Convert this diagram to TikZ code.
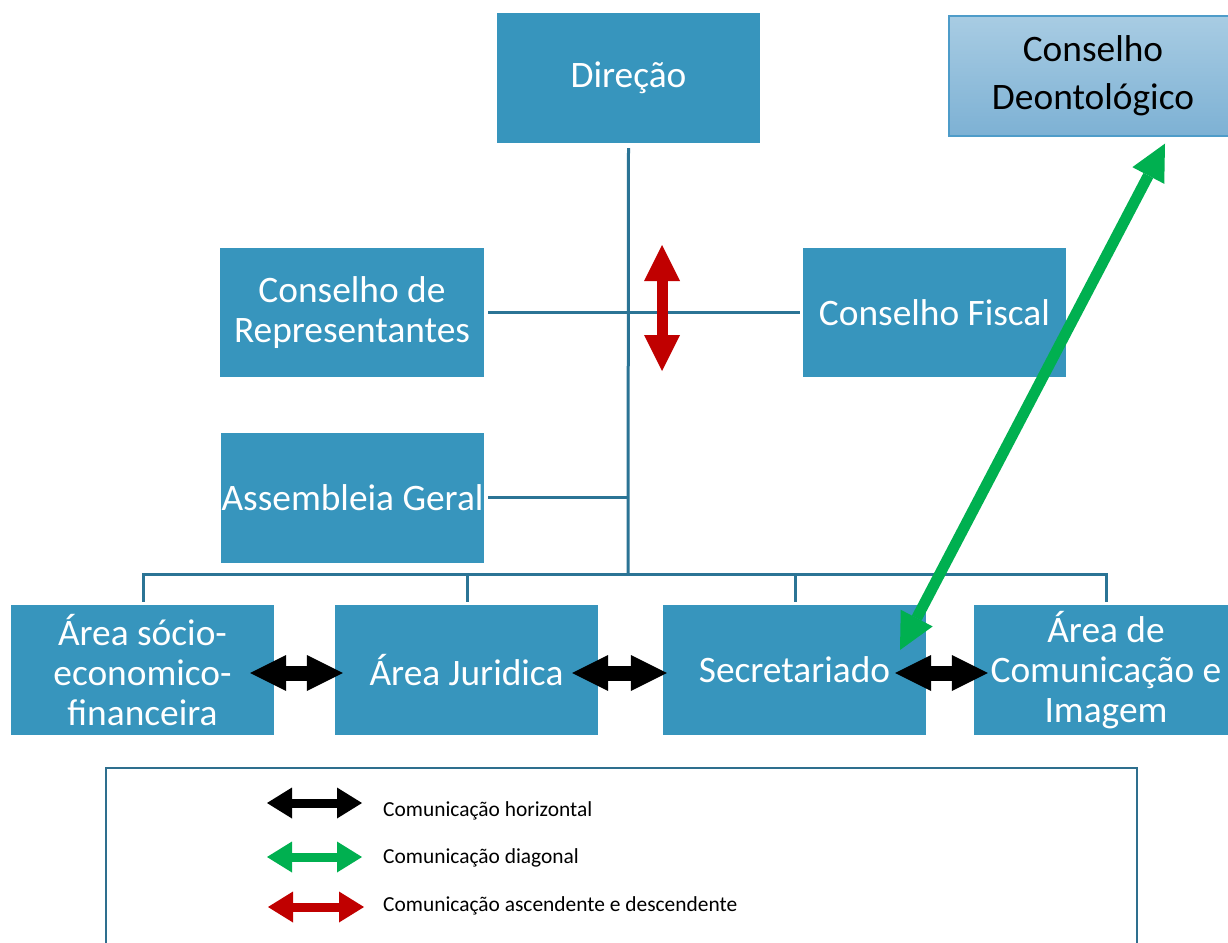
\documentclass[tikz,border=0pt]{standalone}
\usepackage{fontspec}
\setmainfont{Carlito}
\usetikzlibrary{arrows.meta,calc}
\definecolor{boxblue}{HTML}{3795BD}
\definecolor{linec}{HTML}{2B7495}
\definecolor{legc}{HTML}{2E6F8E}
\definecolor{deontop}{HTML}{A8CCE3}
\definecolor{deonbot}{HTML}{7DB1D4}
\definecolor{deonborder}{HTML}{4E9CC9}
\definecolor{redarrow}{HTML}{C00000}
\definecolor{greenarrow}{HTML}{00B050}
\begin{document}
\begin{tikzpicture}[x=1bp,y=-1bp,
  box/.style={fill=boxblue, text=white, align=center, inner sep=0pt,
    minimum width=263bp, minimum height=130bp, font=\fontsize{37.5}{40.5}\selectfont},
  link/.style={draw=linec, line width=3bp},
  bigarrow/.style={line width=#1, {Triangle[width=36bp,length=36bp,line width=0pt]}-{Triangle[width=36bp,length=36bp,line width=0pt]}},
  legarrow/.style={line width=9bp, {Triangle[width=31bp,length=25bp,line width=0pt]}-{Triangle[width=31bp,length=25bp,line width=0pt]}},
  legtext/.style={anchor=west, inner sep=0pt, font=\fontsize{21.5}{25}\selectfont},
]
\useasboundingbox (0,0) rectangle (1228,943);
\fill[white] (0,0) rectangle (1228,943);

% boxes
\node[box] (dir) at (628.5,78) {Direção};
\node[box, text=black, top color=deontop, bottom color=deonbot, draw=deonborder, line width=1.2bp,
      minimum width=288bp, minimum height=120bp, font=\fontsize{37.5}{48}\selectfont] (deon) at (1093,76) {Conselho\\Deontológico};
\node[box, minimum width=264bp, minimum height=129bp] (rep) at (352,312.5) {Conselho de\\Representantes};
\node[box, minimum height=129bp] (fis) at (934.5,312.5) {Conselho Fiscal};
\node[box] (ass) at (352.5,498) {Assembleia Geral};
\node[box] (b1) at (142.5,670) {Área sócio-\\economico-\\financeira};
\node[box] (b2) at (466.5,670) {Área Juridica};
\node[box] (b3) at (794.5,670) {Secretariado};
\node[box, minimum width=264bp] (b4) at (1106,670) {Área de\\Comunicação e\\Imagem};

% connectors
\coordinate (bus) at (628,574);
\coordinate (dirs) at ($(dir.south)+(0,5)$);
\coordinate (asse) at ($(ass.east)+(4,-1)$);
\draw[link] (dirs) -- (bus);
\draw[link] ($(rep.east)+(4,0)$) -- ($(fis.west)+(-3,0)$);
\draw[link] (asse) -- (asse -| bus);
\draw[link] ($(b1.north)+(0.5,-3)$) |- (bus);
\draw[link] ($(b2.north)+(0.5,-3)$) |- (bus);
\draw[link] ($(b3.north)+(0.5,-3)$) |- (bus);
\draw[link] ($(b4.north)+(0,-3)$) |- (bus);

% communication arrows
\coordinate (rt) at (662,245);
\coordinate (rb) at (662,371);
\draw[redarrow, bigarrow=11bp] (rt) -- (rb);
\draw[black, bigarrow=15bp] ($(b1.east)+(-24,3)$) -- ($(b2.west)+(8,3)$);
\draw[black, bigarrow=15bp] ($(b2.east)+(-26,3)$) -- ($(b3.west)+(4,3)$);
\draw[black, bigarrow=15bp] ($(b3.east)+(-31,3)$) -- ($(b4.west)+(14,3)$);
\draw[greenarrow, bigarrow=11bp] ($(b3.center)+(105.5,-20)$) -- ($(deon.south)+(72,7)$);

% legend
\draw[legc, line width=2bp] (106,950) -- (106,768) -- (1137,768) -- (1137,950);
\coordinate (l1a) at (267,803); \coordinate (l1b) at (362,803);
\coordinate (l2a) at (267,857); \coordinate (l2b) at (362,857);
\coordinate (l3a) at (268,907); \coordinate (l3b) at (364,907);
\draw[black, legarrow] (l1a) -- (l1b);
\draw[greenarrow, legarrow] (l2a) -- (l2b);
\draw[redarrow, legarrow] (l3a) -- (l3b);
\node[legtext] (t1) at (383,811) {Comunicação horizontal};
\node[legtext] (t2) at (383,858) {Comunicação diagonal};
\node[legtext] (t3) at (383,906) {Comunicação ascendente e descendente};
\end{tikzpicture}
\end{document}
